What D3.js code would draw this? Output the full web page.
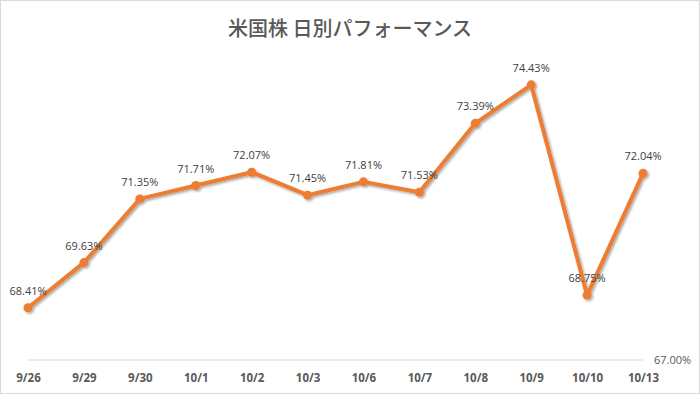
<!DOCTYPE html>
<html><head><meta charset="utf-8">
<script src="https://cdn.jsdelivr.net/npm/d3@7"></script>
<style>html,body{margin:0;padding:0;background:#fff;}svg{display:block;}</style>
</head><body>
<script>
const categories = ["9/26","9/29","9/30","10/1","10/2","10/3","10/6","10/7","10/8","10/9","10/10","10/13"];
const values = [68.41,69.63,71.35,71.71,72.07,71.45,71.81,71.53,73.39,74.43,68.75,72.04];
const yTickLabels = [67];
const title = "米国株 日別パフォーマンス";

const W = 700, H = 394;
const svg = d3.select("body").append("svg").attr("width", W).attr("height", H);
svg.append("rect").attr("x",0.5).attr("y",0.5).attr("width",W-1).attr("height",H-1)
  .attr("fill","#fff").attr("stroke","#d9d9d9");

const defs = svg.append("defs");
const f = defs.append("filter").attr("id","sh").attr("x","-10%").attr("y","-10%").attr("width","120%").attr("height","120%");
f.append("feDropShadow").attr("dx",1.5).attr("dy",1.5).attr("stdDeviation",1.2).attr("flood-color","#000").attr("flood-opacity",0.35);

const x = d3.scalePoint().domain(categories).range([28, 643]);
const y = d3.scaleLinear().domain([67, 75]).range([360, 63.7]);

svg.append("text").attr("x", 350).attr("y", 36).attr("text-anchor","middle")
  .attr("font-family","'Noto Sans CJK JP'").attr("font-size",20).attr("font-weight",500)
  .attr("fill","#595959").text(title);

// axis baseline
svg.append("line").attr("x1",x.range()[0]).attr("x2",x.range()[1]).attr("y1",y(67)).attr("y2",y(67))
  .attr("stroke","#d9d9d9").attr("stroke-width",1);

// x axis labels
const xa = svg.append("g").attr("transform",`translate(0,${y(67)})`)
  .call(d3.axisBottom(x).tickSize(0).tickPadding(14));
xa.select(".domain").remove();
xa.selectAll("text").attr("font-family","'Open Sans', 'Noto Sans', sans-serif").attr("font-size",11.5)
  .attr("font-weight",700).attr("fill","#595959");

// y axis label on right
const ya = svg.append("g").attr("transform",`translate(654,0)`)
  .call(d3.axisRight(y).tickValues(yTickLabels).tickSize(0).tickPadding(0).tickFormat(d=>d.toFixed(2)+"%"));
ya.select(".domain").remove();
ya.selectAll("text").attr("font-family","'Open Sans', 'Noto Sans', sans-serif").attr("font-size",11)
  .attr("fill","#595959");

const line = d3.line().x((d,i)=>x(categories[i])).y(d=>y(d));
const g = svg.append("g").attr("filter","url(#sh)");
g.append("path").datum(values).attr("d",line).attr("fill","none")
  .attr("stroke","#ED7D31").attr("stroke-width",4).attr("stroke-linejoin","round").attr("stroke-linecap","round");
g.selectAll("circle").data(values).enter().append("circle")
  .attr("cx",(d,i)=>x(categories[i])).attr("cy",d=>y(d)).attr("r",4.5).attr("fill","#ED7D31");

svg.selectAll("text.lbl").data(values).enter().append("text").attr("class","lbl")
  .attr("x",(d,i)=>x(categories[i])).attr("y",d=>y(d)-13).attr("text-anchor","middle")
  .attr("font-family","'Open Sans', 'Noto Sans', sans-serif").attr("font-size",11)
  .attr("fill","#404040").text(d=>d.toFixed(2)+"%");
</script>
</body></html>
